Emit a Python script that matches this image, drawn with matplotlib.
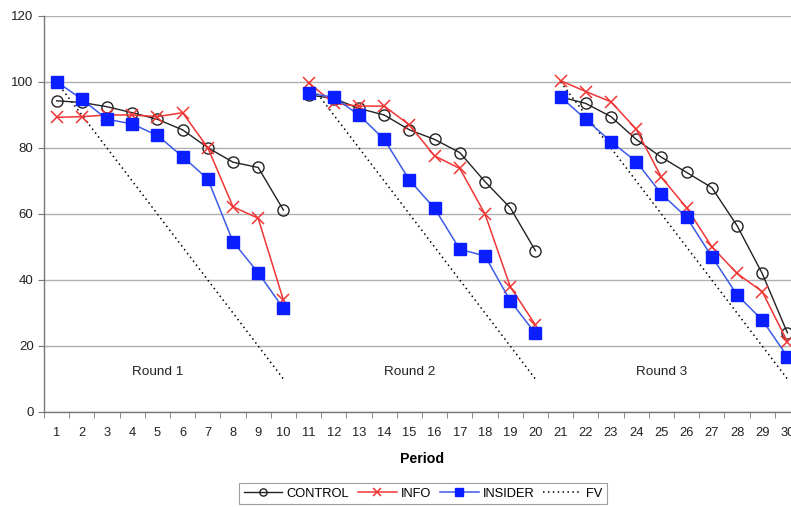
import matplotlib
matplotlib.use("Agg")
import matplotlib.pyplot as plt
import numpy as np

plt.rcParams['font.family'] = ['Liberation Sans', 'DejaVu Sans']

periods = list(range(1, 31))
control = [94.3, 93.8, 92.5, 90.7, 88.7, 85.5, 80.1, 75.7, 74.1, 61.2,
           96.1, 95.0, 92.0, 90.0, 85.5, 82.6, 78.6, 69.8, 61.9, 48.9,
           95.5, 93.5, 89.5, 82.6, 77.2, 72.6, 68.0, 56.5, 42.0, 24.0]
info = [89.3, 89.5, 90.0, 90.0, 89.5, 90.7, 80.1, 62.2, 58.7, 33.9,
        99.8, 93.5, 92.7, 92.7, 87.0, 77.6, 73.8, 60.0, 38.0, 26.4,
        100.4, 97.1, 94.0, 85.7, 71.1, 61.9, 50.1, 42.0, 36.5, 21.3]
insider = [100.1, 94.8, 88.7, 87.3, 83.8, 77.4, 70.6, 51.6, 42.2, 31.4,
           96.6, 95.4, 90.0, 82.6, 70.3, 61.7, 49.3, 47.3, 33.7, 23.8,
           95.5, 88.7, 81.9, 75.9, 66.1, 59.0, 47.1, 35.5, 27.9, 16.8]
fv = [100, 90, 80, 70, 60, 50, 40, 30, 20, 10,
      100, 90, 80, 70, 60, 50, 40, 30, 20, 10,
      100, 90, 80, 70, 60, 50, 40, 30, 20, 10]
round_labels = ["Round 1", "Round 2", "Round 3"]
round_size = 10

fig = plt.figure(figsize=(7.91, 5.07), dpi=100)
ax = fig.add_axes([44/791, (507-412)/507, 756/791, 396/507])

x = np.array(periods)
for r in range(3):
    s = slice(r*round_size, (r+1)*round_size)
    ax.plot(x[s], np.array(fv)[s], color='black', linestyle=(0, (1, 2.2)), linewidth=1.1,
            label='FV' if r == 0 else '_nolegend_', zorder=2)
    ax.plot(x[s], np.array(control)[s], color='#222222', linewidth=1.0, marker='o',
            markersize=8, markerfacecolor='none', markeredgecolor='#222222', markeredgewidth=1.0,
            label='CONTROL' if r == 0 else '_nolegend_', zorder=3)
    ax.plot(x[s], np.array(info)[s], color='#f03535', linewidth=1.1, marker='x',
            markersize=8, markeredgewidth=1.1,
            label='INFO' if r == 0 else '_nolegend_', zorder=4)
    ax.plot(x[s], np.array(insider)[s], color='#3c5ae8', linewidth=1.1, marker='s',
            markersize=8, markerfacecolor='#0a1eff', markeredgecolor='#0a1eff',
            label='INSIDER' if r == 0 else '_nolegend_', zorder=5)
    ax.text(r*round_size + 5.0, 12, round_labels[r], ha='center', va='center', fontsize=9.7, color='#222222')

ax.set_xlim(0.5, 30.5)
ax.set_ylim(0, 120)
ax.set_yticks([0, 20, 40, 60, 80, 100, 120])
ax.set_xticks(periods)
ax.set_xticks(np.arange(0.5, 31, 1), minor=True)
ax.tick_params(axis='x', which='major', length=0, labelsize=9.3, pad=11, colors='#222222')
ax.tick_params(axis='x', which='minor', length=4, direction='out', color='#777777')
ax.tick_params(axis='y', length=4, direction='out', labelsize=9.5, color='#777777', labelcolor='#222222')
ax.yaxis.grid(True, color='#b0b0b0', linewidth=1.0)
ax.set_axisbelow(True)
for sp in ['top', 'right']:
    ax.spines[sp].set_visible(False)
for sp in ['left', 'bottom']:
    ax.spines[sp].set_color('#777777')
    ax.spines[sp].set_linewidth(1.0)
ax.set_xlabel('Period', fontsize=10.2, fontweight='bold', labelpad=9)

handles, labels = ax.get_legend_handles_labels()
order = [labels.index(n) for n in ['CONTROL', 'INFO', 'INSIDER', 'FV']]
leg = fig.legend([handles[i] for i in order], [labels[i] for i in order],
                 loc='upper center', bbox_to_anchor=(423/791, (507-483)/507), ncol=4, fontsize=9.3,
                 frameon=True, fancybox=False, edgecolor='#888888', handlelength=3.0,
                 handletextpad=0.3, columnspacing=0.7, borderpad=0.35, markerscale=0.65,
                 borderaxespad=0)
leg.get_frame().set_linewidth(0.8)

fig.savefig('out.png', dpi=100)
